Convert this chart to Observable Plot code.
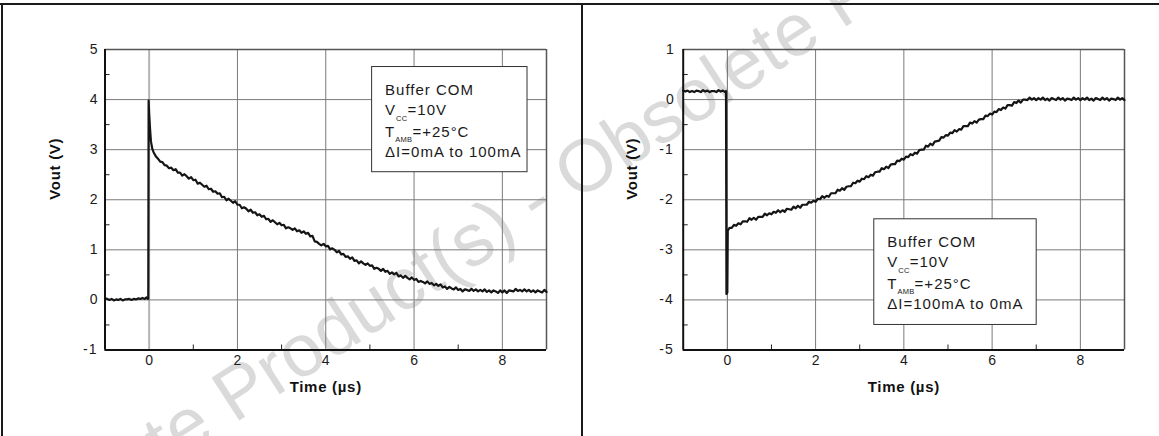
<!DOCTYPE html>
<html><head><meta charset="utf-8">
<script src="https://cdn.jsdelivr.net/npm/d3@7"></script>
<script src="https://cdn.jsdelivr.net/npm/@observablehq/plot@0.6"></script>
<style>
body{margin:0;background:#fff;}
#wrap{position:relative;width:1159px;height:436px;overflow:hidden;font-family:"Liberation Sans",Arial,sans-serif;background:#fff;}
.panel{position:absolute;top:0;}
#wm{position:absolute;left:0;top:0;}
.bl{position:absolute;background:#1a1a1a;}
</style></head><body>
<div id="wrap">
  <svg id="wm" width="1159" height="436"><text x="548" y="220" transform="rotate(-33 548 220)" text-anchor="middle" font-size="74" fill="#dadada" font-family="Liberation Sans, Arial, sans-serif">Obsolete Product(s) - Obsolete Product(s)</text></svg>
  <div class="panel" id="p1" style="left:0;width:580px"></div>
  <div class="panel" id="p2" style="left:580px;width:579px"></div>
  <div class="bl" style="left:0;top:3px;width:1159px;height:2px"></div>
  <div class="bl" style="left:1px;top:3px;width:2px;height:433px"></div>
  <div class="bl" style="left:581px;top:3px;width:2px;height:433px"></div>
</div>
<script>
// ---- data ----
const xDomain = [-1, 9];
const xMajor = [0, 2, 4, 6, 8];
const xMinor = [1, 3, 5, 7];

const yDomainLeft = [-1, 5];
const yTicksLeft = [-1, 0, 1, 2, 3, 4, 5];
const yMinorLeft = [-0.5, 0.5, 1.5, 2.5, 3.5, 4.5];

const yDomainRight = [-5, 1];
const yTicksRight = [-5, -4, -3, -2, -1, 0, 1];
const yMinorRight = [-4.5, -3.5, -2.5, -1.5, -0.5, 0.5];

const xLabel = "Time (µs)";
const yLabel = "Vout (V)";

// Vout (V) vs time (µs): ΔI = 0mA → 100mA
const leftTrace = [
[-1.00,0.03],[-0.95,0.02],[-0.90,0.00],[-0.85,0.02],[-0.80,-0.01],[-0.75,0.01],[-0.70,0.00],[-0.65,0.02],[-0.60,-0.01],[-0.55,0.01],
[-0.50,0.01],[-0.45,0.02],[-0.40,0.00],[-0.35,0.02],[-0.30,0.01],[-0.25,0.03],[-0.20,0.02],[-0.15,0.04],[-0.10,0.02],[-0.06,0.05],[-0.03,0.02],
[-0.02,0.03],[-0.012,3.98],[0.00,3.72],[0.02,3.42],[0.04,3.17],[0.07,3.02],[0.10,2.95],[0.15,2.87],[0.20,2.82],[0.25,2.76],
[0.30,2.75],[0.35,2.69],[0.40,2.68],[0.45,2.63],
[0.50,2.64],[0.55,2.59],[0.60,2.61],[0.65,2.54],[0.70,2.54],[0.75,2.48],[0.80,2.51],[0.85,2.47],[0.90,2.42],[0.95,2.45],
[1.00,2.39],[1.05,2.40],[1.10,2.32],[1.15,2.34],[1.20,2.30],[1.25,2.26],[1.30,2.28],[1.35,2.21],[1.40,2.22],[1.45,2.16],
[1.50,2.17],[1.55,2.12],[1.60,2.13],[1.65,2.05],[1.70,2.06],[1.75,1.99],[1.80,2.02],[1.85,1.98],[1.90,1.94],[1.95,1.97],
[2.00,1.90],[2.05,1.90],[2.10,1.83],[2.15,1.85],[2.20,1.82],[2.25,1.77],[2.30,1.80],[2.35,1.74],[2.40,1.75],[2.45,1.69],
[2.50,1.71],[2.55,1.66],[2.60,1.68],[2.65,1.61],[2.70,1.62],[2.75,1.56],[2.80,1.59],[2.85,1.55],[2.90,1.51],[2.95,1.54],
[3.00,1.49],[3.05,1.50],[3.10,1.43],[3.15,1.45],[3.20,1.43],[3.25,1.40],[3.30,1.43],[3.35,1.37],[3.40,1.39],[3.45,1.34],
[3.50,1.37],[3.55,1.32],[3.60,1.34],[3.65,1.27],[3.70,1.28],[3.75,1.17],[3.80,1.16],[3.85,1.12],[3.90,1.09],[3.95,1.12],
[4.00,1.07],[4.05,1.08],[4.10,1.01],[4.15,1.03],[4.20,1.00],[4.25,0.95],[4.30,0.98],[4.35,0.91],[4.40,0.92],[4.45,0.86],
[4.50,0.87],[4.55,0.82],[4.60,0.85],[4.65,0.78],[4.70,0.79],[4.75,0.73],[4.80,0.77],[4.85,0.73],[4.90,0.70],[4.95,0.73],
[5.00,0.68],[5.05,0.69],[5.10,0.62],[5.15,0.64],[5.20,0.62],[5.25,0.58],[5.30,0.62],[5.35,0.56],[5.40,0.58],[5.45,0.52],
[5.50,0.55],[5.55,0.51],[5.60,0.54],[5.65,0.47],[5.70,0.49],[5.75,0.44],[5.80,0.48],[5.85,0.44],[5.90,0.41],[5.95,0.45],
[6.00,0.40],[6.05,0.42],[6.10,0.36],[6.15,0.38],[6.20,0.36],[6.25,0.33],[6.30,0.37],[6.35,0.32],[6.40,0.34],[6.45,0.29],
[6.50,0.32],[6.55,0.28],[6.60,0.31],[6.65,0.25],[6.70,0.27],[6.75,0.22],[6.80,0.26],[6.85,0.23],[6.90,0.21],[6.95,0.25],
[7.00,0.20],[7.05,0.22],[7.10,0.17],[7.15,0.21],[7.20,0.20],[7.25,0.18],[7.30,0.22],[7.35,0.18],[7.40,0.21],[7.45,0.17],
[7.50,0.20],[7.55,0.17],[7.60,0.21],[7.65,0.16],[7.70,0.19],[7.75,0.15],[7.80,0.19],[7.85,0.17],[7.90,0.14],[7.95,0.19],
[8.00,0.15],[8.05,0.19],[8.10,0.14],[8.15,0.19],[8.20,0.18],[8.25,0.17],[8.30,0.22],[8.35,0.18],[8.40,0.20],[8.45,0.17],
[8.50,0.21],[8.55,0.17],[8.60,0.20],[8.65,0.16],[8.70,0.19],[8.75,0.15],[8.80,0.19],[8.85,0.17],[8.90,0.15],[8.95,0.20],[9.00,0.16]
];

// ΔI = 100mA → 0mA
const rightTrace = [
[-1.00,0.18],[-0.95,0.16],[-0.90,0.18],[-0.85,0.15],[-0.80,0.17],[-0.75,0.15],[-0.70,0.18],[-0.65,0.17],[-0.60,0.15],[-0.55,0.19],
[-0.50,0.16],[-0.45,0.18],[-0.40,0.15],[-0.35,0.17],[-0.30,0.17],[-0.25,0.15],[-0.20,0.19],[-0.15,0.16],[-0.10,0.18],[-0.05,0.15],[-0.03,0.17],
[-0.02,-3.88],[0.00,-3.85],[0.01,-2.62],
[0.05,-2.56],[0.10,-2.56],[0.15,-2.50],[0.20,-2.52],[0.25,-2.47],[0.30,-2.49],[0.35,-2.43],[0.40,-2.43],[0.45,-2.44],
[0.50,-2.37],[0.55,-2.40],[0.60,-2.36],[0.65,-2.40],[0.70,-2.34],[0.75,-2.34],[0.80,-2.34],[0.85,-2.28],[0.90,-2.31],[0.95,-2.27],
[1.00,-2.29],[1.05,-2.24],[1.10,-2.26],[1.15,-2.21],[1.20,-2.25],[1.25,-2.21],[1.30,-2.24],[1.35,-2.18],[1.40,-2.19],[1.45,-2.20],
[1.50,-2.14],[1.55,-2.17],[1.60,-2.12],[1.65,-2.16],[1.70,-2.10],[1.75,-2.10],[1.80,-2.10],[1.85,-2.04],[1.90,-2.06],[1.95,-2.02],
[2.00,-2.04],[2.05,-1.98],[2.10,-1.99],[2.15,-1.93],[2.20,-1.96],[2.25,-1.92],[2.30,-1.94],[2.35,-1.87],[2.40,-1.87],[2.45,-1.87],
[2.50,-1.80],[2.55,-1.82],[2.60,-1.77],[2.65,-1.80],[2.70,-1.74],[2.75,-1.73],[2.80,-1.73],[2.85,-1.66],[2.90,-1.67],[2.95,-1.62],
[3.00,-1.64],[3.05,-1.58],[3.10,-1.59],[3.15,-1.53],[3.20,-1.55],[3.25,-1.50],[3.30,-1.52],[3.35,-1.45],[3.40,-1.44],[3.45,-1.44],
[3.50,-1.37],[3.55,-1.39],[3.60,-1.34],[3.65,-1.37],[3.70,-1.30],[3.75,-1.29],[3.80,-1.29],[3.85,-1.22],[3.90,-1.23],[3.95,-1.18],
[4.00,-1.20],[4.05,-1.14],[4.10,-1.15],[4.15,-1.09],[4.20,-1.11],[4.25,-1.06],[4.30,-1.08],[4.35,-1.01],[4.40,-1.00],[4.45,-1.00],
[4.50,-0.92],[4.55,-0.94],[4.60,-0.88],[4.65,-0.91],[4.70,-0.84],[4.75,-0.83],[4.80,-0.82],[4.85,-0.75],[4.90,-0.76],[4.95,-0.71],
[5.00,-0.72],[5.05,-0.66],[5.10,-0.67],[5.15,-0.61],[5.20,-0.64],[5.25,-0.59],[5.30,-0.60],[5.35,-0.53],[5.40,-0.53],[5.45,-0.53],
[5.50,-0.46],[5.55,-0.48],[5.60,-0.43],[5.65,-0.46],[5.70,-0.40],[5.75,-0.39],[5.80,-0.39],[5.85,-0.32],[5.90,-0.33],[5.95,-0.28],
[6.00,-0.30],[6.05,-0.24],[6.10,-0.25],[6.15,-0.19],[6.20,-0.21],[6.25,-0.16],[6.30,-0.18],[6.35,-0.11],[6.40,-0.11],[6.45,-0.12],
[6.50,-0.05],[6.55,-0.07],[6.60,-0.02],[6.65,-0.06],[6.70,0.00],[6.75,0.00],[6.80,-0.01],[6.85,0.04],[6.90,0.00],[6.95,0.03],
[7.00,-0.01],[7.05,0.03],[7.10,0.00],[7.15,0.04],[7.20,-0.01],[7.25,0.02],[7.30,-0.02],[7.35,0.03],[7.40,0.01],[7.45,-0.01],
[7.50,0.04],[7.55,0.00],[7.60,0.03],[7.65,-0.02],[7.70,0.02],[7.75,0.01],[7.80,-0.01],[7.85,0.04],[7.90,0.00],[7.95,0.03],
[8.00,-0.01],[8.05,0.03],[8.10,0.00],[8.15,0.04],[8.20,-0.01],[8.25,0.02],[8.30,-0.02],[8.35,0.03],[8.40,0.01],[8.45,-0.01],
[8.50,0.04],[8.55,0.00],[8.60,0.03],[8.65,-0.02],[8.70,0.02],[8.75,0.01],[8.80,-0.01],[8.85,0.04],[8.90,0.00],[8.95,0.03],[9.00,-0.01]
];

const leftLegend = [
  [["Buffer COM"]],
  [["V"], ["CC", true], ["=10V"]],
  [["T"], ["AMB", true], ["=+25°C"]],
  [["ΔI=0mA to 100mA"]]
];
const rightLegend = [
  [["Buffer COM"]],
  [["V"], ["CC", true], ["=10V"]],
  [["T"], ["AMB", true], ["=+25°C"]],
  [["ΔI=100mA to 0mA"]]
];

// ---- drawing ----
function panel(target, cfg) {
  const W = cfg.width, H = 436, mt = 49, mb = 86.5;
  const plotH = H - mt - mb, plotW = W - cfg.ml - cfg.mr;
  const chart = Plot.plot({
    width: W, height: H,
    marginLeft: cfg.ml, marginRight: cfg.mr, marginTop: mt, marginBottom: mb,
    style: {background: "transparent", fontFamily: "Liberation Sans, Arial, sans-serif", color: "#111"},
    x: {domain: xDomain, axis: null},
    y: {domain: cfg.yDomain, axis: null},
    marks: [
      Plot.gridX(xMajor.filter(d => d !== 0), {stroke: "#7a7a7a", strokeOpacity: 1, strokeWidth: 1}),
      Plot.gridX([0], {stroke: cfg.zeroGrid, strokeOpacity: 1, strokeWidth: cfg.zeroGridW}),
      Plot.gridY(cfg.yTicks, {stroke: "#7a7a7a", strokeOpacity: 1, strokeWidth: 1}),
      Plot.ruleX([xDomain[1]], {stroke: "#555", strokeWidth: 1.5}),
      Plot.ruleY([cfg.yDomain[1]], {stroke: "#555", strokeWidth: 1.5}),
      Plot.tickX(xMinor, {x: d => d, insetTop: plotH - 5, stroke: "#222", strokeWidth: 1}),
      Plot.tickY(cfg.yMinor, {y: d => d, insetRight: plotW - 5, stroke: "#222", strokeWidth: 1}),
      Plot.line(cfg.trace, {x: d => d[0], y: d => d[1], stroke: "#151515", strokeWidth: 2.2}),
      Plot.ruleX([xDomain[0]], {stroke: "#111", strokeWidth: 2}),
      Plot.ruleY([cfg.yDomain[0]], {stroke: "#111", strokeWidth: 2}),
      // tick labels
      Plot.text(xMajor, {x: d => d, text: d => String(d), frameAnchor: "bottom", dy: 14.5, fontSize: 14, fill: "#1a1a1a"}),
      Plot.text(cfg.yTicks, {y: d => d, text: d => String(d), frameAnchor: "left", dx: -cfg.yPad, textAnchor: "end", fontSize: 14, fill: "#1a1a1a"}),
      // axis titles
      Plot.text([xLabel], {frameAnchor: "bottom", dy: 41.5, fontWeight: "bold", fontSize: 15, fill: "#111"}),
      Plot.text([yLabel], {frameAnchor: "left", dx: cfg.yLabelDx, rotate: -90, fontWeight: "bold", fontSize: 15, fill: "#111"})
    ]
  });
  const sel = d3.select(chart);
  sel.selectAll("text").each(function () {
    const s = this.textContent;
    if (s === xLabel || s === yLabel) d3.select(this).style("letter-spacing", "0.7px");
    else if (/^-\d$/.test(s)) d3.select(this).style("letter-spacing", "1px");
  });

  // legend box placed through the chart's own scales
  const sx = chart.scale("x").apply, sy = chart.scale("y").apply;
  const b = cfg.box;
  const x0 = sx(b.x1), y0 = sy(b.yTop);
  const g = sel.append("g").attr("text-anchor", "start");
  g.append("rect").attr("x", x0).attr("y", y0)
    .attr("width", sx(b.x2) - x0).attr("height", sy(b.yBottom) - y0)
    .attr("fill", "#fff").attr("stroke", "#333").attr("stroke-width", 1);
  const baselines = [28.3, 48.5, 70, 90.5];
  cfg.legend.forEach((line, i) => {
    const t = g.append("text").attr("x", x0 + 13.5).attr("y", y0 + baselines[i])
      .attr("text-anchor", "start")
      .attr("font-size", 15).attr("fill", "#1a1a1a").style("letter-spacing", "1px")
      .attr("font-family", "Liberation Sans, Arial, sans-serif");
    let shifted = false;
    line.forEach(([s, sub]) => {
      const ts = t.append("tspan").text(s);
      if (sub) { ts.attr("font-size", 7.5).attr("dy", 5.5).style("letter-spacing", "0.3px"); shifted = true; }
      else if (shifted) { ts.attr("dy", -5.5); shifted = false; }
    });
  });
  document.getElementById(target).appendChild(chart);
}

panel("p1", {
  width: 580, ml: 104.5, mr: 34, yPad: 7.5, yLabelDx: -49.5,
  yDomain: yDomainLeft, yTicks: yTicksLeft, yMinor: yMinorLeft,
  zeroGrid: "#b4b4b4", zeroGridW: 2,
  trace: leftTrace, legend: leftLegend,
  box: {x1: 5.05, x2: 8.57, yTop: 4.65, yBottom: 2.55}
});
panel("p2", {
  width: 579, ml: 102.7, mr: 35, yPad: 9.5, yLabelDx: -51,
  yDomain: yDomainRight, yTicks: yTicksRight, yMinor: yMinorRight,
  zeroGrid: "#666", zeroGridW: 1,
  trace: rightTrace, legend: rightLegend,
  box: {x1: 3.33, x2: 7.01, yTop: -2.39, yBottom: -4.5}
});
</script>
</body></html>
